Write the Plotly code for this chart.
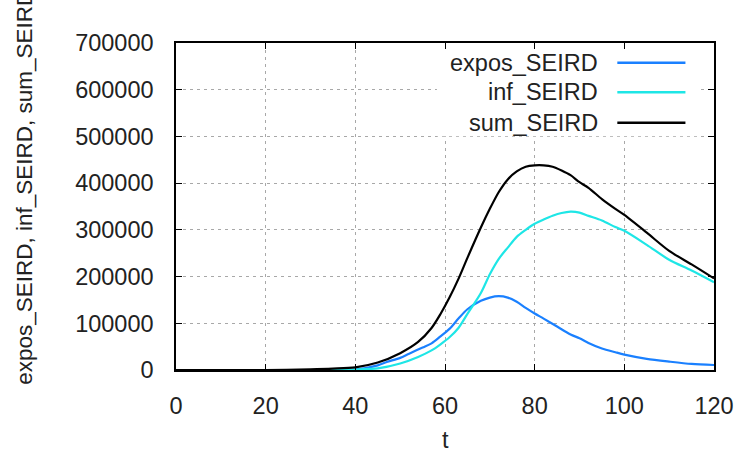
import plotly.graph_objects as go

# ---- data ----
t_sum = [0, 10, 20, 30, 35, 40, 45, 50, 54, 57, 59, 61, 63, 65, 68, 70, 72, 74, 76, 78,
         80, 82, 84, 86, 88, 90, 92, 95, 98, 100, 105, 110, 115, 120]
sum_SEIRD = [0, 0, 0, 1500, 3000, 5700, 16000, 36000, 60000, 90000, 120000, 155000, 195000,
             240000, 305000, 345000, 381000, 408000, 425000, 435000, 438000, 438000, 435000,
             427000, 417000, 402000, 390000, 366000, 345000, 332000, 294000, 255000, 226000, 196000]

t_inf = [0, 10, 20, 30, 35, 40, 45, 50, 54, 57, 59, 61, 63, 65, 68, 70, 72, 74, 76, 78,
         80, 82, 84, 86, 88, 90, 92, 95, 98, 100, 105, 110, 115, 120]
inf_SEIRD = [0, 0, 0, 0, 0, 1000, 3500, 14000, 28000, 42000, 55000, 70000, 90000, 120000,
             165000, 205000, 238000, 262000, 285000, 300000, 313000, 322000, 330000, 336000,
             339000, 337000, 330000, 320000, 306000, 298000, 268000, 236000, 213000, 188000]

t_exp = [0, 10, 20, 30, 35, 40, 45, 47, 50, 52, 55, 57, 59, 61, 63, 65, 68, 70, 72, 74, 76,
         78, 80, 82, 85, 88, 90, 92, 95, 98, 100, 105, 110, 115, 120]
expos_SEIRD = [0, 0, 0, 0, 0, 1000, 10000, 17000, 26000, 35000, 48000, 57000, 72000, 88000,
               110000, 130000, 148000, 155000, 158000, 155000, 146000, 133000, 121000, 110000,
               93000, 76000, 68000, 58000, 46000, 38000, 33000, 24000, 18000, 13000, 10700]

x_ticks = [0, 20, 40, 60, 80, 100, 120]
y_ticks = [0, 100000, 200000, 300000, 400000, 500000, 600000, 700000]

series_names = ["expos_SEIRD", "inf_SEIRD", "sum_SEIRD"]
series_colors = ["#1a80ff", "#1ee6e6", "#000000"]

FONT = "Liberation Sans, Arial, sans-serif"
FS = 23.5

fig = go.Figure()
for name, xs, ys, col in [
    (series_names[0], t_exp, expos_SEIRD, series_colors[0]),
    (series_names[1], t_inf, inf_SEIRD, series_colors[1]),
    (series_names[2], t_sum, sum_SEIRD, series_colors[2]),
]:
    fig.add_trace(go.Scatter(x=xs, y=ys, mode="lines", name=name,
                             line=dict(color=col, width=2.2, shape="spline", smoothing=0.8),
                             showlegend=False))

axis_common = dict(
    showline=True, linecolor="black", linewidth=1.5, mirror="ticks",
    ticks="inside", ticklen=6, tickwidth=1.2, tickcolor="black",
    showgrid=True, gridcolor="#a8a8a8", gridwidth=1, griddash="3px,4px",
    zeroline=False, automargin=False,
    tickfont=dict(family=FONT, size=FS, color="#222"),
)

fig.update_xaxes(range=[0, 120], tickvals=x_ticks, ticktext=[str(v) for v in x_ticks],
                 ticklabelstandoff=14, **axis_common)
fig.update_yaxes(range=[0, 700000], tickvals=y_ticks, ticktext=[str(v) for v in y_ticks],
                 ticklabelstandoff=16, **axis_common)

# legend background (hides grid like gnuplot key box)
fig.add_shape(type="rect", xref="paper", yref="paper", x0=0.485, x1=0.97, y0=0.715, y1=0.98,
              fillcolor="white", line=dict(width=0), layer="above")

leg_y = [0.9398, 0.8492, 0.7563]
for name, col, yy in zip(series_names, series_colors, leg_y):
    fig.add_annotation(text=name, xref="paper", yref="paper", x=0.7886, y=yy,
                       xanchor="right", yanchor="middle", showarrow=False,
                       font=dict(family=FONT, size=FS, color="#222"))
    fig.add_shape(type="line", xref="paper", yref="paper", x0=0.8203, x1=0.9469, y0=yy, y1=yy,
                  line=dict(color=col, width=2.5), layer="above")

fig.add_annotation(text="expos_SEIRD, inf_SEIRD, sum_SEIRD", xref="paper", yref="paper",
                   x=-0.282, y=-0.052, xanchor="center", yanchor="bottom", textangle=-90,
                   showarrow=False, font=dict(family=FONT, size=22.5, color="#222"))
fig.add_annotation(text="t", xref="paper", yref="paper", x=0.5, y=-0.214,
                   xanchor="center", yanchor="middle", showarrow=False,
                   font=dict(family=FONT, size=FS, color="#222"))

fig.update_layout(width=735, height=454, margin=dict(l=176, r=21, t=43, b=84, autoexpand=False),
                  plot_bgcolor="white", paper_bgcolor="white")

fig.write_html("out.html")
